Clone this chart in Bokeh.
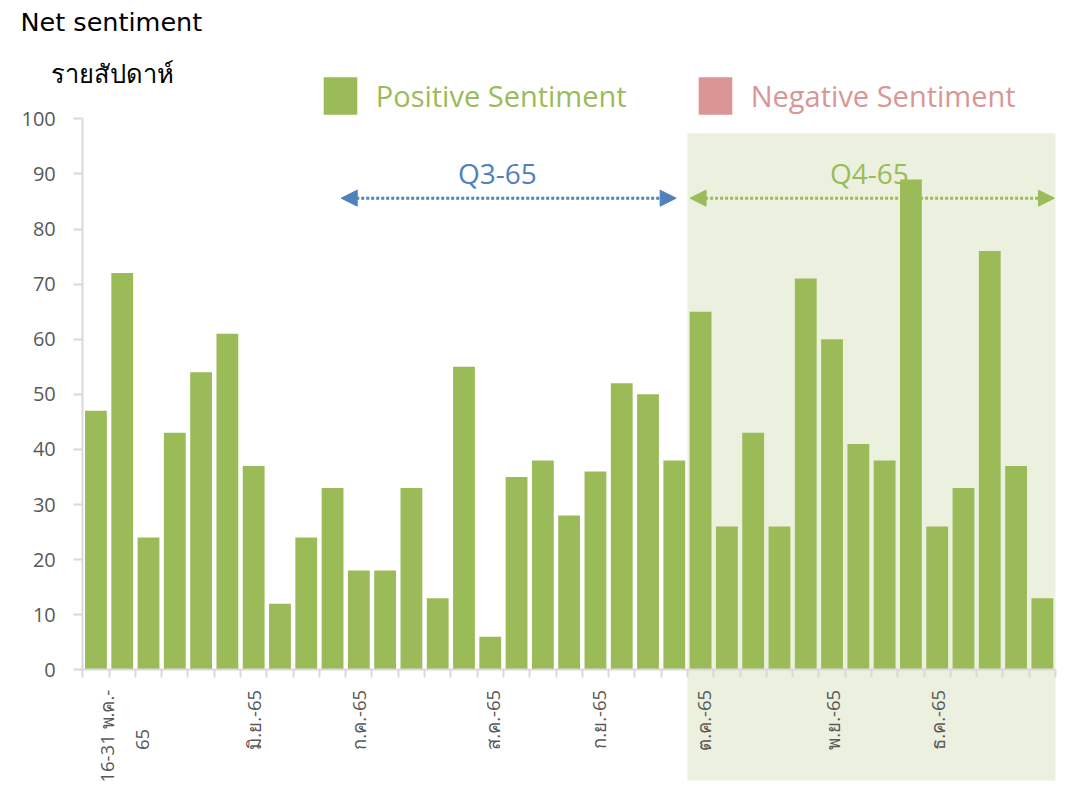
import math
from bokeh.plotting import figure
from bokeh.models import (Range1d, LinearAxis, FixedTicker, Label, Legend, LegendItem,
                          Arrow, NormalHead, ColumnDataSource)
from bokeh.embed import file_html
from bokeh.resources import INLINE

# ---------------- data ----------------
positive = [47, 72, 24, 43, 54, 61, 37, 12, 24, 33, 18, 18, 33, 13, 55, 6, 35, 38, 28,
            36, 52, 50, 38, 65, 26, 43, 26, 71, 60, 41, 38, 89, 26, 33, 76, 37, 13]
negative = [0, 0, 0, 0, 0, 0, 0, 0, 0, 0, 0, 0, 0, 0, 0, 0, 0, 0, 0,
            0, 0, 0, 0, 0, 0, 0, 0, 0, 0, 0, 0, 0, 0, 0, 0, 0, 0]
tick_labels = ["16-31 พ.ค.-", "มิ.ย.-65", "ก.ค.-65", "ส.ค.-65", "ก.ย.-65",
               "ต.ค.-65", "พ.ย.-65", "ธ.ค.-65"]
tick_positions = [0.92, 6.5, 10.5, 15.6, 19.6, 23.6, 28.5, 32.5]
wrap_label = ["65"]
wrap_position = [2.27]
y_ticks = [0, 10, 20, 30, 40, 50, 60, 70, 80, 90, 100]
q3_span = (9.83, 22.57)
q4_span = (23.1, 36.96)
q4_shade = (23, 37)
quarter_names = ["Q3-65", "Q4-65"]

GREEN = "#9BBB59"
PINK = "#D99694"
BLUE = "#4F81BD"
SHADE = "#EBF1DE"
AXIS = "#D9D9D9"
FONT = "Open Sans"
TFONT = "DejaVu Sans"

n = len(positive)
xs = [i + 0.5 for i in range(n)]
src = ColumnDataSource(dict(x=xs, pos=positive, neg=negative))

W, H = 1064, 785
X0PX, CATPX = 82.3, (1055 - 82.3) / 37
Y0PX, UNITPX = 669.3, 5.51

p = figure(width=W, height=H, output_backend="svg", toolbar_location=None,
           x_range=Range1d(-X0PX / CATPX, (W - X0PX) / CATPX),
           y_range=Range1d(-(H - Y0PX) / UNITPX, Y0PX / UNITPX),
           min_border=0, x_axis_type=None, y_axis_type=None)
p.outline_line_color = None
p.xgrid.visible = False
p.ygrid.visible = False
p.background_fill_color = "white"

# Q4 shaded area
p.quad(left=[q4_shade[0]], right=[q4_shade[1]], top=[97.4], bottom=[-20.1],
       fill_color=SHADE, line_color=None)

pos_r = p.vbar(x="x", top="pos", width=0.83, source=src, fill_color=GREEN, line_color=None)
neg_r = p.vbar(x="x", top="neg", width=0.83, source=src, fill_color=PINK, line_color=None)

# y axis
yax = LinearAxis(ticker=FixedTicker(ticks=y_ticks), bounds=(0, 100), fixed_location=0)
yax.axis_line_color = AXIS
yax.axis_line_width = 2
yax.major_tick_line_color = AXIS
yax.major_tick_line_width = 2
yax.major_tick_out = 9
yax.major_tick_in = 0
yax.minor_tick_line_color = None
yax.major_label_standoff = 18
yax.major_label_text_font = FONT
yax.major_label_text_font_size = "20px"
yax.major_label_text_color = "#595959"
p.add_layout(yax, "left")

# x axis: category boundary ticks
xax = LinearAxis(ticker=FixedTicker(ticks=list(range(n + 1))), fixed_location=0, bounds=(0, n))
xax.axis_line_color = AXIS
xax.axis_line_width = 2
xax.major_tick_line_color = AXIS
xax.major_tick_line_width = 2
xax.major_tick_out = 8
xax.major_tick_in = 0
xax.minor_tick_line_color = None
xax.major_label_text_font_size = "0px"
xax.major_label_text_alpha = 0
p.add_layout(xax, "below")


def label_axis(positions, labels, standoff):
    ax = LinearAxis(ticker=FixedTicker(ticks=positions), fixed_location=0, bounds=(0, n))
    ax.axis_line_color = None
    ax.major_tick_line_color = None
    ax.minor_tick_line_color = None
    ax.major_tick_out = 0
    ax.major_tick_in = 0
    ax.major_label_standoff = standoff
    ax.major_label_orientation = math.pi / 2
    ax.major_label_overrides = {pos: lab for pos, lab in zip(positions, labels)}
    ax.major_label_text_font = FONT
    ax.major_label_text_font_size = "18.5px"
    ax.major_label_text_color = "#595959"
    p.add_layout(ax, "below")


label_axis(tick_positions, tick_labels, 20)
label_axis(wrap_position, wrap_label, 59)

# legends
for r, lab, col, x0 in [(pos_r, "Positive Sentiment", GREEN, 318.75),
                        (neg_r, "Negative Sentiment", PINK, 693.75)]:
    lg = Legend(items=[LegendItem(label=lab, renderers=[r])], location=(x0, 661),
                glyph_width=42, glyph_height=47, label_height=57, label_standoff=15,
                padding=0, margin=0, border_line_color=None, background_fill_alpha=0,
                label_text_font=FONT, label_text_font_size="29px", label_text_color=col)
    p.add_layout(lg)

# quarter arrows
for (a, b), col in [(q3_span, BLUE), (q4_span, GREEN)]:
    p.add_layout(Arrow(x_start=a, y_start=85.6, x_end=b, y_end=85.6,
                       line_color=col, line_width=3, line_dash="3 2",
                       start=NormalHead(size=16, fill_color=col, line_color=col, line_width=1),
                       end=NormalHead(size=16, fill_color=col, line_color=col, line_width=1)))

for name, cx, col in [(quarter_names[0], 15.77, BLUE), (quarter_names[1], 29.92, GREEN)]:
    p.add_layout(Label(x=cx, y=90.1, text=name, text_align="center", text_baseline="middle",
                       text_font=FONT, text_font_size="28px", text_color=col))

# titles
p.add_layout(Label(x=20, y=H - 21, x_units="screen", y_units="screen", text="Net sentiment",
                   text_font=TFONT, text_font_size="25.5px", text_color="#000000",
                   text_baseline="alphabetic"))
p.add_layout(Label(x=50, y=H - 73, x_units="screen", y_units="screen", text="รายสัปดาห์",
                   text_font=TFONT, text_font_size="25.5px", text_color="#000000",
                   text_baseline="alphabetic"))

open("out.html", "w").write(file_html(p, INLINE))
